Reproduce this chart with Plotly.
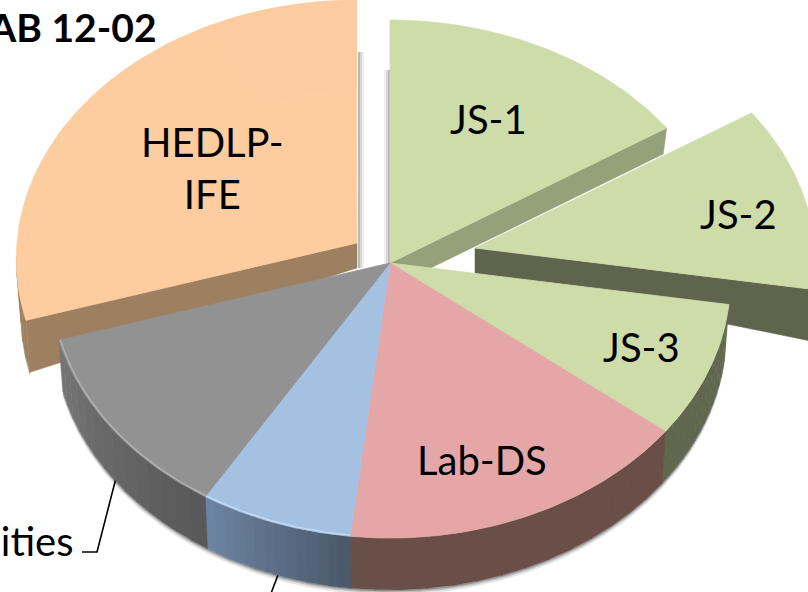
import math
import plotly.graph_objects as go

# Data -----------------------------------------------------------------
categories = ["JS-1", "JS-2", "JS-3", "Lab-DS", "Other", "Facilities", "HEDLP-IFE"]
shares = [15.9, 11.65, 8.25, 15.95, 6.85, 11.65, 29.7]
chart_title = "LAB 12-02"

# Styling ---------------------------------------------------------------
top_colors = ["#CEDCAA", "#CEDCAA", "#CEDCAA", "#E4A6A6", "#A5C1E2", "#929292", "#FDCDA0"]
wall_start = ["#95A178", "#5F654D", "#61674E", "#6A4E48", "#4B596B", "#595959", "#9E8060"]
wall_end = ["#95A178", "#5F654D", "#61674E", "#6A4E48", "#6C84A3", "#757575", "#9E8060"]
explode = [(0, 0), (85, -15), (0, 0), (0, 0), (0, 0), (0, 0), (-33, -20)]
CX, CY, RX, RY, PERSP = 390, 263, 340, 258, 0.062
FONT = "Lato"


def point(t_deg, r=1.0, off=(0, 0), wall=False):
    t = math.radians(t_deg)
    X, Z = math.sin(t) * r, -math.cos(t) * r
    s = 1 / (1 - PERSP * Z)
    x, y = CX + off[0] + RX * X * s, CY + off[1] + RY * Z * s
    if wall:
        f = min(1, max(0, (0.57 - math.cos(t)) / 0.75))
        d = 25 + 27 * r * f
        return CX + off[0] + (x - CX - off[0]) * 0.988, y + d
    return x, y


def arc(t0, t1, r=1.0, off=(0, 0), wall=False, n=60):
    return [point(t0 + (t1 - t0) * i / n, r, off, wall) for i in range(n + 1)]


def mix(c0, c1, u):
    a = [int(c0[i:i + 2], 16) for i in (1, 3, 5)]
    b = [int(c1[i:i + 2], 16) for i in (1, 3, 5)]
    return "#%02X%02X%02X" % tuple(round(p + (q - p) * u) for p, q in zip(a, b))


fig = go.Figure()


def poly(points, color, line=0.6):
    fig.add_trace(go.Scatter(
        x=[p[0] for p in points] + [points[0][0]],
        y=[p[1] for p in points] + [points[0][1]],
        mode="lines", fill="toself", fillcolor=color,
        line=dict(color=color, width=line), hoverinfo="skip", showlegend=False))


def path(points, color, width):
    fig.add_trace(go.Scatter(
        x=[p[0] for p in points], y=[p[1] for p in points], mode="lines",
        line=dict(color=color, width=width), hoverinfo="skip", showlegend=False))


# slice angle ranges follow from the shares
edges = [0]
for v in shares:
    edges.append(edges[-1] + v * 3.6)
spans = [(edges[i], edges[i + 1]) for i in range(len(shares))]


def top(i):
    t0, t1 = spans[i]
    poly([point(0, 0, explode[i])] + arc(t0, t1, 1, explode[i]), top_colors[i], 0.8)


def radial_wall(i, t):
    o = explode[i]
    poly([point(t, 0, o), point(t, 1, o), point(t, 1, o, True), point(t, 0, o, True)],
         wall_start[i], 0.5)


def rim(i, t0=None, t1=None, strips=14, shadow=True):
    a, b = spans[i]
    t0 = a if t0 is None else t0
    t1 = b if t1 is None else t1
    o = explode[i]
    if shadow:
        low = arc(t0, t1, 1, o, True)
        for gap, alpha in ((5, 0.10), (3, 0.16), (1.5, 0.22)):
            poly(low + [(x, y + gap) for x, y in reversed(low)], f"rgba(0,0,0,{alpha})", 0)
    for k in range(strips):
        u0 = t0 + (t1 - t0) * k / strips
        u1 = t0 + (t1 - t0) * (k + 1) / strips + 0.15
        poly(arc(u0, u1, 1, o, False, 8) + arc(u1, u0, 1, o, True, 8),
             mix(wall_start[i], wall_end[i], k / max(1, strips - 1)), 0.4)


# leader lines (behind the pie)
path([(116, 478), (97, 552), (82, 552)], "#000000", 1.6)
path([(278, 575), (270, 596)], "#000000", 1.6)

# back slices
radial_wall(0, spans[0][1])
top(0)
radial_wall(1, spans[1][1])
rim(1, 85, spans[1][1], 4)
top(1)
radial_wall(6, spans[6][0])
rim(6, spans[6][0], spans[6][0] + 14, 4)
top(6)
poly(arc(333, 360, 0.62, explode[6], False, 20) + arc(360, 333, 1, explode[6], False, 20), "#FCCBA0", 0)

# front slices, right to left
for i, hl in ((2, None), (3, None), (4, "#C4DCF6"), (5, "#B4B4B4")):
    rim(i)
for i, hl in ((2, None), (3, None), (4, "#C4DCF6"), (5, "#B4B4B4")):
    top(i)
    if hl:
        path(arc(spans[i][0], spans[i][1], 0.996), hl, 1.3)

# vertical soft shadows on the white gap
shapes = []
for x0, y0, y1 in ((358, 52, 268), (385, 70, 263)):
    for w, a in ((6, 0.06), (4, 0.10), (2, 0.14)):
        xa, xb = (x0, x0 + w) if x0 == 358 else (x0 + 5 - w, x0 + 5)
        shapes.append(dict(type="rect", xref="x", yref="y", x0=xa, x1=xb, y0=y0, y1=y1,
                           fillcolor=f"rgba(0,0,0,{a})", line=dict(width=0), layer="below"))

# text labels
labels = [("JS-1", 488, 119), ("JS-2", 738, 214), ("JS-3", 641, 347),
          ("Lab-DS", 482, 460), ("HEDLP-<br>IFE", 212, 168)]
annots = [dict(x=x, y=y, text=t, showarrow=False, xref="x", yref="y",
               font=dict(family=FONT, size=40, color="#000000")) for t, x, y in labels]
annots.append(dict(x=75, y=541, text="Facilities", xanchor="right", showarrow=False, xref="x", yref="y",
                   font=dict(family=FONT, size=40, color="#000000")))
annots.append(dict(x=159, y=27, text="<b>" + chart_title + "</b>", xanchor="right", showarrow=False,
                   xref="x", yref="y", font=dict(family=FONT, size=39, color="#000000")))

fig.update_layout(
    width=808, height=592, margin=dict(l=0, r=0, t=0, b=0),
    paper_bgcolor="#FFFFFF", plot_bgcolor="#FFFFFF", showlegend=False,
    xaxis=dict(range=[0, 808], visible=False, fixedrange=True),
    yaxis=dict(range=[592, 0], visible=False, fixedrange=True),
    annotations=annots, shapes=shapes)
fig.write_html("out.html", config={"displayModeBar": False},
               post_script="document.body.style.margin='0';document.body.style.overflow='hidden';")
